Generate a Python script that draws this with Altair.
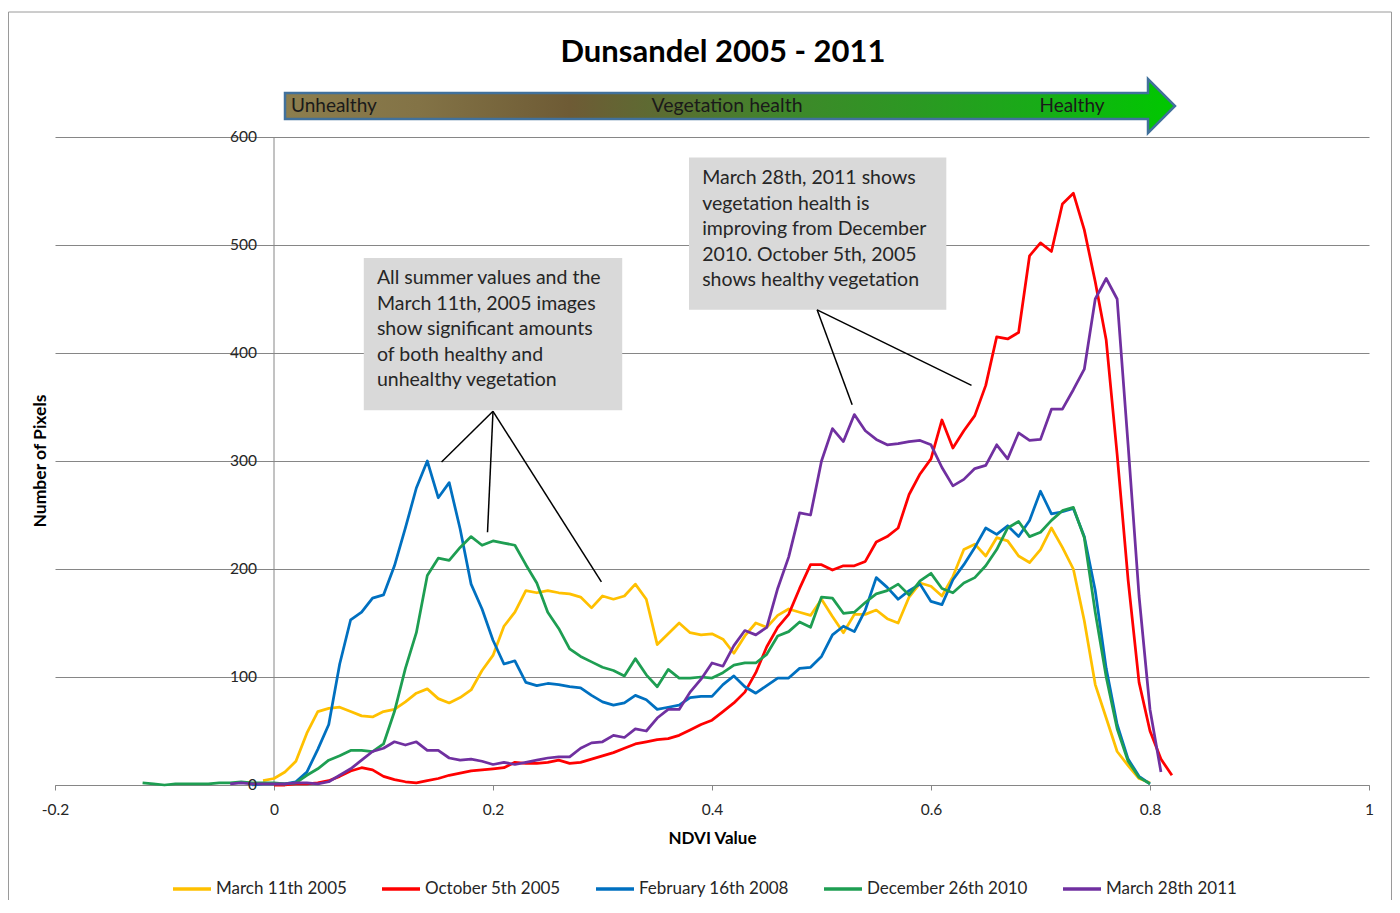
import altair as alt
import pandas as pd

# ---------------- data ----------------
ndvi = [round(-0.12 + 0.01 * i, 2) for i in range(95)]  # histogram bins -0.12 .. 0.82

series_names = ["March 11th 2005", "October 5th 2005", "February 16th 2008",
                "December 26th 2010", "March 28th 2011"]
series_colors = ["#FFC000", "#FF0000", "#0070C0", "#1E9E52", "#7030A0"]

mar_2005 = [None] * 11 + [4] + [
    6, 12, 22, 48, 68, 71, 72, 68, 64, 63,
    68, 70, 77, 85, 89, 80, 76, 81, 88, 106,
    120, 147, 160, 180, 178, 180, 178, 177, 174, 164,
    175, 172, 175, 186, 172, 130, 140, 150, 141, 139,
    140, 135, 122, 138, 150, 146, 157, 163, 160, 157,
    172, 156, 141, 158, 158, 162, 154, 150, 174, 187,
    184, 175, 193, 218, 223, 212, 229, 226, 212, 206,
    218, 238, 220, 200, 152, 93, 62, 31, 18, 6,
    2, None, None]

oct_2005 = [None] * 12 + [
    0, 0, 1, 1, 2, 4, 8, 13, 16, 14,
    8, 5, 3, 2, 4, 6, 9, 11, 13, 14,
    15, 16, 21, 20, 20, 21, 23, 20, 21, 24,
    27, 30, 34, 38, 40, 42, 43, 46, 51, 56,
    60, 68, 76, 86, 104, 128, 146, 158, 182, 204,
    204, 199, 203, 203, 207, 225, 230, 238, 269, 288,
    302, 338, 312, 328, 342, 370, 415, 413, 419, 490,
    502, 494, 538, 548, 514, 466, 412, 306, 190, 95,
    50, 24, 9]

feb_2008 = [None] * 10 + [0, 1] + [
    1, 1, 3, 12, 33, 56, 112, 153, 160, 173,
    176, 203, 238, 275, 300, 266, 280, 237, 186, 163,
    134, 112, 115, 95, 92, 94, 93, 91, 90, 83,
    77, 74, 76, 83, 79, 70, 72, 74, 81, 82,
    82, 93, 101, 91, 85, 92, 99, 99, 108, 109,
    119, 139, 147, 142, 162, 192, 183, 172, 180, 186,
    170, 167, 190, 204, 220, 238, 232, 240, 230, 245,
    272, 251, 253, 256, 230, 180, 108, 56, 24, 8,
    1, None, None]

dec_2010 = [2, 1, 0, 1, 1, 1, 1, 2, 2, 3, 2, 2] + [
    2, 1, 2, 9, 15, 23, 27, 32, 32, 31,
    38, 68, 108, 141, 194, 210, 208, 220, 230, 222,
    226, 224, 222, 204, 187, 160, 145, 126, 119, 114,
    109, 106, 101, 117, 102, 91, 107, 99, 99, 100,
    99, 104, 111, 113, 113, 121, 138, 142, 151, 146,
    174, 173, 159, 160, 169, 177, 180, 186, 176, 189,
    196, 182, 178, 187, 192, 203, 218, 238, 244, 230,
    234, 245, 254, 257, 229, 160, 100, 52, 22, 7,
    1, None, None]

mar_2011 = [None] * 8 + [1, 2, 1, 1] + [
    1, 1, 2, 2, 1, 3, 9, 15, 23, 31,
    34, 40, 37, 40, 32, 32, 25, 23, 24, 22,
    19, 21, 19, 21, 23, 25, 26, 26, 34, 39,
    40, 46, 44, 52, 50, 62, 70, 70, 86, 98,
    113, 110, 129, 143, 139, 146, 182, 211, 252, 250,
    300, 330, 318, 343, 328, 320, 315, 316, 318, 319,
    315, 294, 277, 283, 293, 296, 315, 302, 326, 319,
    320, 348, 348, 366, 385, 450, 469, 450, 315, 175,
    70, 12, None]

x_ticks = [-0.2, 0, 0.2, 0.4, 0.6, 0.8, 1]
y_ticks = [0, 100, 200, 300, 400, 500, 600]

note_1 = ["All summer values and the", "March 11th, 2005 images",
          "show significant amounts", "of both healthy and", "unhealthy vegetation"]
note_2 = ["March 28th, 2011 shows", "vegetation health is",
          "improving from December", "2010. October 5th, 2005",
          "shows healthy vegetation"]

# callout boxes, text anchors and leader lines, in data units (NDVI, pixels)
box_x1 = [0.082, 0.379]
box_x2 = [0.318, 0.614]
box_y1 = [347, 440]
box_y2 = [488, 581]
note_x = [0.094, 0.391]
note_y = [469, 562]
lead_x1 = [0.200, 0.200, 0.200, 0.496, 0.496]
lead_y1 = [346, 346, 346, 440, 440]
lead_x2 = [0.153, 0.195, 0.299, 0.528, 0.637]
lead_y2 = [299, 234, 188, 352, 370]

# ---------------- build tables ----------------
rows = []
for k, (name, vals) in enumerate(zip(series_names,
                                     [mar_2005, oct_2005, feb_2008, dec_2010, mar_2011])):
    for x, v in zip(ndvi, vals):
        if v is not None:
            rows.append({"NDVI": x, "Pixels": v, "Series": name, "k": k})
df = pd.DataFrame(rows)

FONT = "Lato"
GRID = "#868686"
TXT = "#262626"
W, H = 1314, 648

one = pd.DataFrame({"a": [0]})

xscale = alt.Scale(domain=[-0.2, 1], nice=False, zero=False)
yscale = alt.Scale(domain=[0, 600], nice=False)

lines = alt.Chart(df).mark_line(strokeWidth=2.75, strokeJoin="round").encode(
    x=alt.X("NDVI:Q", scale=xscale,
            axis=alt.Axis(values=x_ticks, grid=False, domainColor=GRID, tickColor=GRID,
                          tickSize=5, labelPadding=12, labelFlush=False,
                          labelExpr="datum.value < 0 ? '-' + format(-datum.value, '~g') : format(datum.value, '~g')",
                          labelFont=FONT, labelFontSize=15.5, labelColor=TXT,
                          title="NDVI Value", titleFont=FONT, titleFontSize=17,
                          titleFontWeight="bold", titleColor="#000000", titlePadding=13)),
    y=alt.Y("Pixels:Q", scale=yscale,
            axis=alt.Axis(values=y_ticks, grid=True, gridColor=GRID, gridWidth=1,
                          labels=False, ticks=False, domain=False, title=None)),
    color=alt.Color("Series:N",
                    scale=alt.Scale(domain=series_names, range=series_colors),
                    legend=alt.Legend(title=None, orient="none", legendX=116, legendY=731,
                                      direction="horizontal", symbolType="stroke",
                                      symbolSize=1444, symbolStrokeWidth=3.5,
                                      labelFont=FONT, labelFontSize=17, labelColor=TXT,
                                      labelLimit=400, columnPadding=28, padding=0,
                                      labelOffset=3)),
    order=alt.Order("NDVI:Q"),
    detail="k:O",
)

# y axis line at x = 0 and its labels
yline = alt.Chart(pd.DataFrame({"x": [0], "y": [0], "y2": [600]})).mark_rule(
    color=GRID, strokeWidth=1).encode(x="x:Q", y="y:Q", y2="y2:Q")
ylabels = alt.Chart(pd.DataFrame({"v": y_ticks, "x": [0] * len(y_ticks)})).mark_text(
    align="right", baseline="middle", dx=-17, font=FONT, fontSize=15.5, color=TXT
).encode(x="x:Q", y="v:Q", text="v:Q")

# callouts
boxes = alt.Chart(pd.DataFrame({"x1": box_x1, "x2": box_x2, "y1": box_y1, "y2": box_y2})
                  ).mark_rect(color="#D9D9D9").encode(x="x1:Q", x2="x2:Q", y="y1:Q", y2="y2:Q")
leads = alt.Chart(pd.DataFrame({"x1": lead_x1, "y1": lead_y1, "x2": lead_x2, "y2": lead_y2})
                  ).mark_rule(color="#000000", strokeWidth=1.5).encode(
    x="x1:Q", y="y1:Q", x2="x2:Q", y2="y2:Q")
txt1 = alt.Chart(pd.DataFrame({"x": [note_x[0]], "y": [note_y[0]]})).mark_text(
    text=note_1, align="left", baseline="middle", lineHeight=25.5,
    font=FONT, fontSize=19.5, color=TXT).encode(x="x:Q", y="y:Q")
txt2 = alt.Chart(pd.DataFrame({"x": [note_x[1]], "y": [note_y[1]]})).mark_text(
    text=note_2, align="left", baseline="middle", lineHeight=25.5,
    font=FONT, fontSize=19.5, color=TXT).encode(x="x:Q", y="y:Q")

# title
title = alt.Chart(one).mark_text(text="Dunsandel 2005 - 2011", font=FONT, fontSize=31,
                                 fontWeight="bold", color="#000000", align="center",
                                 baseline="middle").encode(x=alt.value(668), y=alt.value(-84))

# y-axis title
ytitle = alt.Chart(one).mark_text(text="Number of Pixels", font=FONT, fontSize=17.5,
                                  fontWeight="bold", color="#000000", angle=270,
                                  align="center", baseline="middle").encode(
    x=alt.value(-14), y=alt.value(324))

# health arrow
grad = alt.Gradient(gradient="linear", x1=0, x2=1, y1=0, y2=0, stops=[
    alt.GradientStop(offset=0.0, color="#8C7E4E"),
    alt.GradientStop(offset=0.15, color="#837346"),
    alt.GradientStop(offset=0.32, color="#6E5B35"),
    alt.GradientStop(offset=0.42, color="#5C6C32"),
    alt.GradientStop(offset=0.57, color="#3E882A"),
    alt.GradientStop(offset=0.72, color="#2A9A22"),
    alt.GradientStop(offset=0.86, color="#16AE16"),
    alt.GradientStop(offset=1.0, color="#00C800"),
])
arrow_path = "M0,-13L863,-13L863,-27L890,0L863,27L863,13L0,13Z"
arrow = alt.Chart(one).mark_point(shape=arrow_path, size=4, filled=True, fill=grad,
                                  stroke="#41719C", strokeWidth=2.5, opacity=1).encode(
    x=alt.value(230), y=alt.value(-31))
arrow_l = alt.Chart(pd.DataFrame({"t": ["Unhealthy"]})).mark_text(
    font=FONT, fontSize=19, color="#1A1A1A", baseline="middle", align="left").encode(
    x=alt.value(236), y=alt.value(-31), text="t:N")
arrow_c = alt.Chart(pd.DataFrame({"t": ["Vegetation health"]})).mark_text(
    font=FONT, fontSize=19.5, color="#1A1A1A", baseline="middle", align="center").encode(
    x=alt.value(672), y=alt.value(-31), text="t:N")
arrow_r = alt.Chart(pd.DataFrame({"t": ["Healthy"]})).mark_text(
    font=FONT, fontSize=19, color="#1A1A1A", baseline="middle", align="center").encode(
    x=alt.value(1017), y=alt.value(-31), text="t:N")

# outer chart frame (left, top, right edges)
frame = alt.Chart(pd.DataFrame({"x": [-46.5, -46.5, 1336.5], "x2": [-46.5, 1336.5, 1336.5],
                                "y": [-125, -125, -125], "y2": [780, -125, 780]})).mark_rule(
    color="#9A9A9A", strokeWidth=1).encode(
    x=alt.X("x:Q", scale=None), x2="x2:Q", y=alt.Y("y:Q", scale=None), y2="y2:Q")

chart = alt.layer(
    frame, boxes, leads, yline, lines, ylabels, txt1, txt2, title, ytitle,
    arrow, arrow_l, arrow_c, arrow_r
).properties(
    width=W, height=H,
    background="white",
    autosize=alt.AutoSizeParams(type="none"),
    padding={"left": 47, "top": 129, "right": 23, "bottom": 115},
).configure_view(stroke=None)

chart.save("out.html", embed_options={"renderer": "svg", "actions": False})
